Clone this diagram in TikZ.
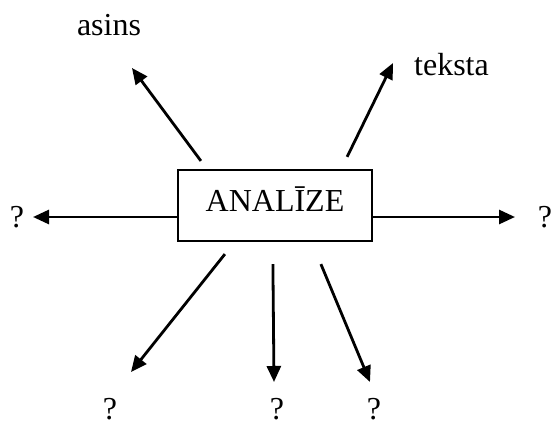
\documentclass[tikz,border=0pt]{standalone}
\usepackage{fontspec}
\setmainfont{Liberation Serif}
\usepackage{tikz}
\usetikzlibrary{arrows.meta, calc, positioning}
\newcommand{\lblSize}{\fontsize{16}{19}\selectfont}
\tikzset{
    lbl/.style = {font=\lblSize, inner sep=0pt, anchor=base},
    box/.style = {draw, line width=1.1pt, font=\lblSize, inner sep=0pt,
                  minimum width=97pt, minimum height=35.5pt,
                  text height=12pt, text depth=6.5pt},
    arr/.style = {line width=1.4pt, -{Triangle[length=8pt,width=7pt]}}
}

\begin{document}
\begin{tikzpicture}[x=0.5pt, y=-0.5pt]
                \useasboundingbox (0,0) rectangle (551,423);
                % the box in the middle
                \node[box] (analize) at (275,205.5) {ANALĪZE};
                
                % texts round it
                \node[lbl] (asins) at (109,35) {asins};
                \node[lbl] (teksta) at (451.5,75) {teksta};
                \node[lbl] (qW) at (17,227) {?};
                \node[lbl] (qE) at (545,227) {?};
                \node[lbl] (qSW) at (110,419) {?};
                \node[lbl] (qS) at (277,419) {?};
                \node[lbl] (qSE) at (374,419) {?};
                
                % arrow tips
                \coordinate (tipA) at (132,68);
                \coordinate (tipT) at (393,63);
                \coordinate (tipW) at (33,217);
                \coordinate (tipE) at (515,217);
                \coordinate (tipSW) at (131,372);
                \coordinate (tipS) at (274,382);
                \coordinate (tipSE) at (370,382);
                
                \draw[arr] ([shift={(24,-8)}]analize.north west) -- (tipA);
                \draw[arr] ([shift={(-26,-12)}]analize.north east) -- (tipT);
                \draw[arr] (analize.west |- tipW) -- (tipW);
                \draw[arr] (analize.east |- tipE) -- (tipE);
                \draw[arr] ([shift={(48,12)}]analize.south west) -- (tipSW);
                \draw[arr] ([shift={(96,22)}]analize.south west) -- (tipS);
                \draw[arr] ([shift={(144,22)}]analize.south west) -- (tipSE);
        \end{tikzpicture}
\end{document}
